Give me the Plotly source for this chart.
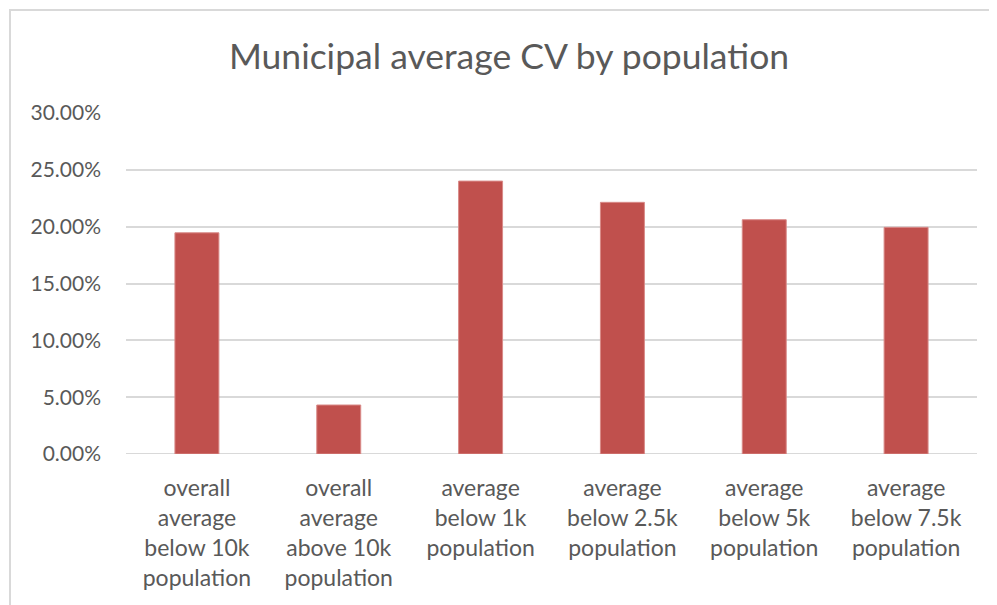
import plotly.graph_objects as go

categories = [
    "overall<br>average<br>below 10k<br>population",
    "overall<br>average<br>above 10k<br>population",
    "average<br>below 1k<br>population",
    "average<br>below 2.5k<br>population",
    "average<br>below 5k<br>population",
    "average<br>below 7.5k<br>population",
]
cv_values = [0.1946, 0.0431, 0.2401, 0.2214, 0.2061, 0.1994]
y_ticks = [0, 0.05, 0.10, 0.15, 0.20, 0.25, 0.30]
y_tick_labels = ["0.00%", "5.00%", "10.00%", "15.00%", "20.00%", "25.00%", "30.00%"]

FONT = "Lato, 'Open Sans', sans-serif"
TEXT = "#595959"

fig = go.Figure(
    go.Bar(
        x=list(range(len(categories))),
        y=cv_values,
        marker=dict(color="#C0504D", line=dict(color="#D98A88", width=1)),
        hoverinfo="y",
    )
)

OFF = 8  # page body margin
W, H = 997 - OFF, 605 - OFF
L, T = 126 - OFF, 113 - OFF
R = W - (977 - OFF)
B = H - (454 - OFF)
pw, ph = W - L - R, H - T - B
bx = ((10 - OFF) - L) / pw
by = (H - B - (10 - OFF)) / ph

fig.update_layout(
    width=W,
    height=H,
    margin=dict(l=L, r=R, t=T, b=B),
    paper_bgcolor="white",
    plot_bgcolor="white",
    bargap=0.69,
    showlegend=False,
    title=dict(
        text="Municipal average CV by population",
        x=(509 - OFF) / W,
        xanchor="center",
        y=1 - (57 - OFF) / H,
        yanchor="middle",
        font=dict(family=FONT, size=35.5, color=TEXT),
    ),
    font=dict(family=FONT, color=TEXT),
    xaxis=dict(
        tickmode="array",
        tickvals=list(range(len(categories))),
        ticktext=categories,
        range=[-0.5, len(categories) - 0.5],
        showgrid=False,
        zeroline=False,
        showline=False,
        ticks="",
        tickfont=dict(family=FONT, size=23, color=TEXT),
        ticklabelstandoff=18,
    ),
    yaxis=dict(
        range=[0, 0.30],
        tickmode="array",
        tickvals=y_ticks,
        ticktext=y_tick_labels,
        showgrid=True,
        gridcolor="#D9D9D9",
        gridwidth=2,
        zeroline=False,
        showline=False,
        ticks="",
        tickfont=dict(family=FONT, size=21, color=TEXT),
        ticklabelstandoff=24,
    ),
    shapes=[
        dict(
            type="path",
            xref="paper",
            yref="paper",
            path=f"M {bx} -1 L {bx} {by} L 1.2 {by}",
            line=dict(color="#D9D9D9", width=2),
            layer="above",
        ),
        dict(
            type="line", xref="paper", yref="y", x0=0, x1=1, y0=0, y1=0,
            line=dict(color="#D9D9D9", width=2), layer="below",
        ),
    ],
)

fig.write_html("out.html")
